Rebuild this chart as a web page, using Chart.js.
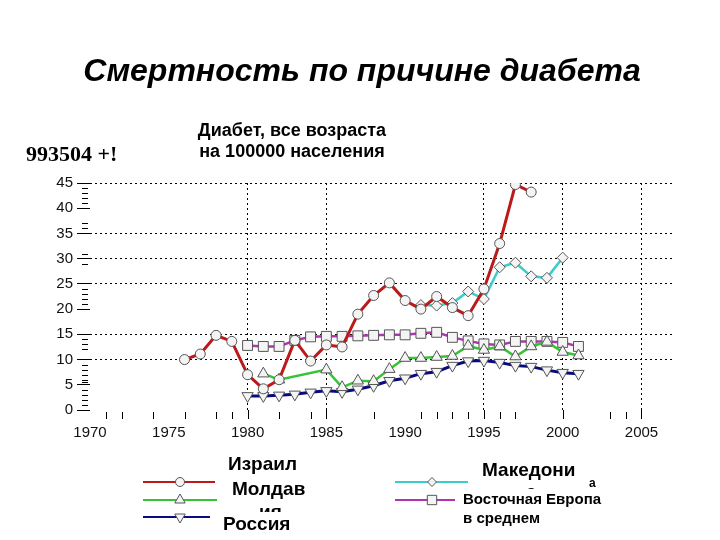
<!DOCTYPE html>
<html lang="ru">
<head>
<meta charset="utf-8">
<title>Смертность по причине диабета</title>
<script src="https://cdn.jsdelivr.net/npm/chart.js@4.4.1/dist/chart.umd.min.js"></script>
<style>
  body { margin: 0; background: #fff; }
  #page { position: relative; width: 720px; height: 540px; overflow: hidden; font-family: "Liberation Sans", Arial, sans-serif; }
  #page canvas { position: absolute; left: 0; top: 0; }
  .txt { position: absolute; white-space: nowrap; color: #000; font-weight: bold; line-height: 1; }
  #title { left: 2px; width: 720px; top: 54px; text-align: center; font-size: 32px; font-style: italic; }
  #subtitle { left: 162px; width: 260px; top: 120px; text-align: center; font-size: 18px; line-height: 21px; }
  #code { left: 26px; top: 143px; font-family: "Liberation Serif", "Times New Roman", serif; font-size: 22px; }
  .big { font-size: 19px; }
  .mask { background: #fff; }
</style>
</head>
<body>
<div id="page">
  <canvas id="chart" width="720" height="540"></canvas>
  <div class="txt" id="title">Смертность по причине диабета</div>
  <div class="txt" id="subtitle">Диабет, все возраста<br>на 100000 населения</div>
  <div class="txt" id="code">993504 +!</div>

  <div class="txt big" style="left:228px; top:454px;">Израил</div>
  <div class="txt big" style="left:232px; top:479px;">Молдав</div>
  <div class="txt big" style="left:259px; top:502px;">ия</div>
  <div class="txt big mask" style="left:223px; top:512px; padding-top:2px;">Россия</div>

  <div class="txt big" style="left:482px; top:460px;">Македони</div>
  <div class="txt" style="left:589px; top:477px; font-size:12px;">а</div>
  <div class="txt big" style="left:526px; top:482px;">а</div>
  <div class="txt mask" style="left:463px; top:489px; font-size:15px; line-height:19px;">Восточная Европа<br>в среднем</div>
</div>

<script>
const years = [
  1976, 1977, 1978, 1979, 1980, 1981, 1982, 1983, 1984, 1985, 1986, 1987, 1988,
  1989, 1990, 1991, 1992, 1993, 1994, 1995, 1996, 1997, 1998, 1999, 2000, 2001,
];

const israel = [
  10.0, 11.1, 14.8, 13.6, 7.0, 4.2, 6.0, 13.8, 9.7, 12.9, 12.5, 19.0, 22.7,
  25.2, 21.7, 20.0, 22.5, 20.3, 18.7, 24.0, 33.0, 44.7, 43.2, null, null, null,
];

const macedonia = [
  null, null, null, null, null, null, null, null, null, null, null, null, null,
  null, null, 20.8, 20.7, 21.2, 23.5, 22.0, 28.3, 29.2, 26.5, 26.2, 30.2, null,
];

const moldova = [
  null, null, null, null, null, 7.2, 6.0, null, null, 8.0, 4.5, 5.8, 5.7,
  8.1, 10.3, 10.3, 10.5, 10.7, 12.7, 11.9, 12.6, 10.6, 12.6, 13.5, 11.5, 10.8,
];

const russia = [
  null, null, null, null, 2.8, 2.8, 2.9, 3.1, 3.5, 3.8, 3.6, 4.1, 4.8,
  5.8, 6.3, 7.2, 7.6, 8.8, 9.7, 9.8, 9.4, 8.8, 8.6, 7.9, 7.4, 7.2,
];

const eastEurope = [
  null, null, null, null, 12.8, 12.6, 12.6, 13.8, 14.5, 14.6, 14.6, 14.7, 14.8,
  14.9, 14.9, 15.2, 15.4, 14.4, 13.7, 13.1, 12.9, 13.6, 13.6, 13.6, 13.4, 12.6,
];

const xTicks = [1970, 1975, 1980, 1985, 1990, 1995, 2000, 2005];
const yTicks = [0, 5, 10, 15, 20, 25, 30, 35, 40, 45];
const xGridLines = [1980, 1985, 1995, 2000, 2005];
const yGridLines = [10, 15, 25, 30, 35, 45];

// short marks under the x axis and left of the y axis
const xMarks = [
  1971, 1972, 1974, 1976, 1978, 1979, 1980, 1982, 1984, 1985, 1988,
  1991, 1992, 1993, 1994, 1995, 1996, 1997, 2000, 2003, 2004, 2005,
];
const yMarks = [
  44, 43, 42, 41, 37, 36, 31, 29, 24, 23, 22, 21, 14, 13, 12,
  9, 8, 7, 6, 5.5, 4, 3, 2, 1,
];

const fontFamily = "'Liberation Sans', Arial, sans-serif";

function series(label, values, color, style, radius, rotation, width)
{
  return {
    label: label,
    data: years
      .map((year, i) => ({x: year, y: values[i]}))
      .filter(p => p.y !== null),
    borderColor: color,
    backgroundColor: color,
    borderWidth: width,
    pointStyle: style,
    pointRadius: radius,
    pointRotation: rotation,
    pointBackgroundColor: "#f4f4f4",
    pointBorderColor: "#555",
    pointBorderWidth: 1,
    tension: 0,
    fill: false,
  };
}

const datasets = [
  series("Израиль", israel, "#bb1a1a", "circle", 5, 0, 3),
  series("Молдавия", moldova, "#36c436", "triangle", 6.5, 0, 2.5),
  series("Россия", russia, "#0a0a80", "triangle", 6.5, 180, 3),
  series("Македония", macedonia, "#3ccccc", "rectRot", 5.5, 0, 2.5),
  series("Восточная Европа в среднем", eastEurope, "#b035b0", "rect", 7, 0, 2.5),
];

// where the legend samples sit: [dataset, lineStart, lineEnd, y, markerX, markerSize]
const legendSamples = [
  [0, 143, 215, 482, 180, 4.5],
  [1, 143, 217, 500, 180, 6],
  [2, 143, 210, 517, 180, 6],
  [3, 395, 468, 482, 432, 4.5],
  [4, 395, 455, 500, 432, 6.5],
];

function drawMarker(ctx, style, rotation, x, y, r)
{
  ctx.beginPath();
  if (style === "circle")
  {
    ctx.arc(x, y, r, 0, Math.PI * 2);
  }
  else if (style === "triangle")
  {
    const dir = rotation === 180 ? -1 : 1;
    ctx.moveTo(x, y - dir * r);
    ctx.lineTo(x + r * 0.87, y + dir * r * 0.5);
    ctx.lineTo(x - r * 0.87, y + dir * r * 0.5);
    ctx.closePath();
  }
  else if (style === "rectRot")
  {
    ctx.moveTo(x, y - r);
    ctx.lineTo(x + r, y);
    ctx.lineTo(x, y + r);
    ctx.lineTo(x - r, y);
    ctx.closePath();
  }
  else
  {
    const s = r * 0.72;
    ctx.rect(x - s, y - s, s * 2, s * 2);
  }
  ctx.fillStyle = "#f4f4f4";
  ctx.fill();
  ctx.strokeStyle = "#555";
  ctx.lineWidth = 1;
  ctx.stroke();
}

const overlayPlugin = {
  id: "overlay",
  afterDraw(chart)
  {
    const ctx = chart.ctx;
    const area = chart.chartArea;
    const xScale = chart.scales.x;
    const yScale = chart.scales.y;

    ctx.save();
    ctx.strokeStyle = "#000";
    ctx.lineWidth = 1;
    ctx.beginPath();
    for (const year of xMarks)
    {
      const px = Math.round(xScale.getPixelForValue(year)) + 0.5;
      const start = xGridLines.includes(year) ? area.bottom : area.bottom + 2;
      ctx.moveTo(px, start);
      ctx.lineTo(px, area.bottom + 9);
    }
    for (const v of yMarks)
    {
      const py = Math.round(yScale.getPixelForValue(v)) + 0.5;
      ctx.moveTo(area.left - 8, py);
      ctx.lineTo(area.left - 2, py);
    }
    ctx.stroke();

    for (const [index, x1, x2, y, mx, size] of legendSamples)
    {
      const ds = chart.data.datasets[index];
      ctx.beginPath();
      ctx.moveTo(x1, y);
      ctx.lineTo(x2, y);
      ctx.strokeStyle = ds.borderColor;
      ctx.lineWidth = 2;
      ctx.stroke();
      drawMarker(ctx, ds.pointStyle, ds.pointRotation, mx, y, size);
    }
    ctx.restore();
  },
};

new Chart(document.getElementById("chart"), {
  type: "line",
  data: {datasets: datasets},
  plugins: [overlayPlugin],
  options: {
    responsive: false,
    animation: false,
    layout: {
      padding: {top: 183, right: 47, left: 0, bottom: 0},
    },
    plugins: {
      legend: {display: false},
      tooltip: {enabled: false},
      title: {display: false},
    },
    scales: {
      x: {
        type: "linear",
        min: 1970,
        max: 2007,
        afterFit(scale)
        {
          scale.height = 130;
        },
        afterBuildTicks(scale)
        {
          scale.ticks = xTicks.map(v => ({value: v}));
        },
        ticks: {
          font: {family: fontFamily, size: 15},
          color: "#111",
          padding: 5,
          maxRotation: 0,
          autoSkip: false,
          callback: v => String(v),
        },
        grid: {
          color: c => (c.tick && xGridLines.includes(c.tick.value)) ? "#000" : "rgba(0,0,0,0)",
          tickColor: "rgba(0,0,0,0)",
          tickLength: 9,
          lineWidth: 1,
        },
        border: {display: false, dash: [2, 3]},
      },
      y: {
        min: 0,
        max: 45,
        afterFit(scale)
        {
          scale.width = 90;
        },
        afterBuildTicks(scale)
        {
          scale.ticks = yTicks.map(v => ({value: v}));
        },
        ticks: {
          font: {family: fontFamily, size: 15},
          color: "#111",
          padding: 4,
          callback: v => String(v),
        },
        grid: {
          color: c => (c.tick && yGridLines.includes(c.tick.value)) ? "#000" : "rgba(0,0,0,0)",
          tickColor: "#000",
          tickLength: 13,
          lineWidth: 1,
        },
        border: {display: false, dash: [2, 3]},
      },
    },
  },
});
</script>
</body>
</html>
